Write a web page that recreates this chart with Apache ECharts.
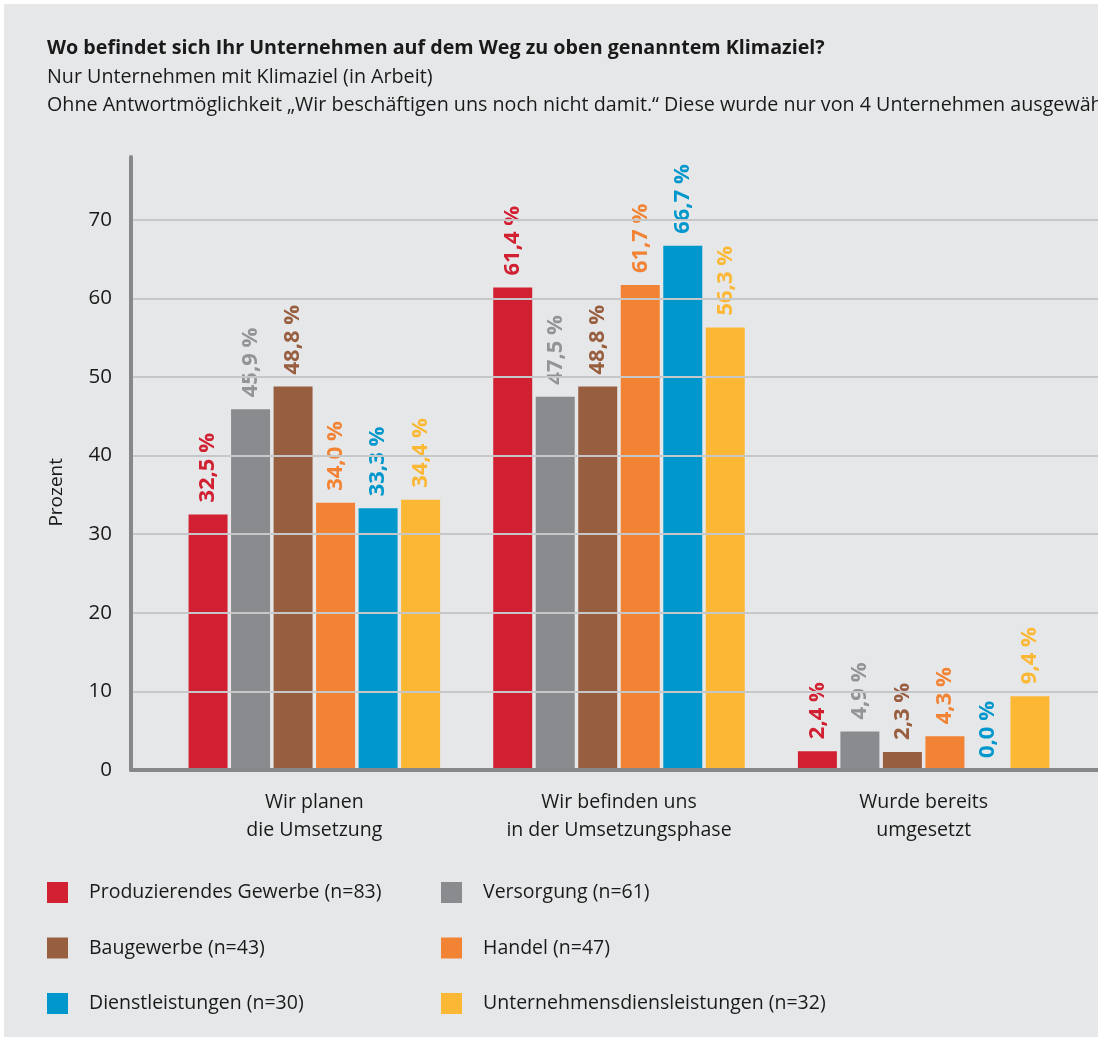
<!DOCTYPE html>
<html>
<head>
<meta charset="utf-8">
<script src="https://cdn.jsdelivr.net/npm/echarts@6/dist/echarts.min.js"></script>
<style>
html,body{margin:0;padding:0;background:#ffffff;width:1098px;height:1047px;overflow:hidden;}
#bg{position:absolute;left:4px;top:4px;width:1094px;height:1033px;background:#e6e7e8;}
#chart{position:absolute;left:0;top:0;width:1098px;height:1047px;}
</style>
</head>
<body>
<div id="bg"></div>
<div id="chart"></div>
<script>
const categories = ['Wir planen\ndie Umsetzung', 'Wir befinden uns\nin der Umsetzungsphase', 'Wurde bereits\numgesetzt'];
const seriesNames = ['Produzierendes Gewerbe (n=83)', 'Versorgung (n=61)', 'Baugewerbe (n=43)', 'Handel (n=47)', 'Dienstleistungen (n=30)', 'Unternehmensdiensleistungen (n=32)'];
const produzierendesGewerbe = [32.5, 61.4, 2.4];
const versorgung = [45.9, 47.5, 4.9];
const baugewerbe = [48.8, 48.8, 2.3];
const handel = [34.0, 61.7, 4.3];
const dienstleistungen = [33.3, 66.7, 0.0];
const unternehmensdienstleistungen = [34.4, 56.3, 9.4];
const yTicks = [0, 10, 20, 30, 40, 50, 60, 70];
const colors = ['#d12031', '#8a8b8e', '#985e40', '#f28334', '#0098cc', '#fcb834'];

const allValues = [produzierendesGewerbe, versorgung, baugewerbe, handel, dienstleistungen, unternehmensdienstleistungen];
const FONT = '"Open Sans", "Noto Sans", sans-serif';
const chart = echarts.init(document.getElementById('chart'), null, {renderer: 'canvas'});

const series = allValues.map((vals, i) => ({
  name: seriesNames[i],
  type: 'bar',
  xAxisIndex: 0,
  yAxisIndex: 0,
  data: vals,
  barWidth: 39,
  barGap: '9%',
  itemStyle: {color: colors[i]},
  label: {
    show: true,
    position: 'top',
    rotate: 90,
    align: 'left',
    verticalAlign: 'middle',
    distance: 12,
    color: i === 1 ? '#939497' : colors[i],
    textBorderWidth: 0,
    fontFamily: FONT,
    fontWeight: 'bold',
    fontSize: 22,
    formatter: p => p.value.toFixed(1).replace('.', ',') + ' %'
  }
}));

const titleStyle = (w) => ({fontFamily: FONT, fontWeight: w, fontSize: 19.7, lineHeight: 24, color: '#1a1a1a'});

const option = {
  backgroundColor: 'transparent',
  animation: false,
  color: colors,
  title: [
    {text: 'Wo befindet sich Ihr Unternehmen auf dem Weg zu oben genanntem Klimaziel?', left: 42, top: 31,
     textStyle: titleStyle('bold')},
    {text: 'Nur Unternehmen mit Klimaziel (in Arbeit)', left: 42, top: 60,
     textStyle: titleStyle('normal')},
    {text: 'Ohne Antwortmöglichkeit \u201EWir beschäftigen uns noch nicht damit.\u201C Diese wurde nur von 4 Unternehmen ausgewählt.', left: 42, top: 88,
     textStyle: titleStyle('normal')}
  ],
  legend: [
    {data: [seriesNames[0], seriesNames[2], seriesNames[4]], orient: 'vertical', left: 42, top: 877,
     itemWidth: 21, itemHeight: 21, itemGap: 34.5, icon: 'rect', selectedMode: false,
     textStyle: {fontFamily: FONT, fontSize: 19.5, lineHeight: 21, color: '#1a1a1a', padding: [0, 0, 0, 16]}},
    {data: [seriesNames[1], seriesNames[3], seriesNames[5]], orient: 'vertical', left: 436, top: 877,
     itemWidth: 21, itemHeight: 21, itemGap: 34.5, icon: 'rect', selectedMode: false,
     textStyle: {fontFamily: FONT, fontSize: 19.5, lineHeight: 21, color: '#1a1a1a', padding: [0, 0, 0, 16]}}
  ],
  grid: [
    {left: 162, right: 22, top: 157, bottom: 277, containLabel: false},
    {left: 131, right: -30, top: 157, bottom: 277, containLabel: false}
  ],
  xAxis: [
    {type: 'category', gridIndex: 0, data: categories,
     axisLine: {show: false}, axisTick: {show: false},
     axisLabel: {margin: 18, fontFamily: FONT, fontSize: 19.5, lineHeight: 28, color: '#1a1a1a', interval: 0}},
    {type: 'value', gridIndex: 1, min: 0, max: 1, show: true, z: 5,
     axisLine: {show: true, onZero: false, lineStyle: {color: '#87888a', width: 4}},
     axisTick: {show: false}, axisLabel: {show: false}, splitLine: {show: false}}
  ],
  yAxis: [
    {type: 'value', gridIndex: 0, min: 0, max: 78, interval: 10, show: false, splitLine: {show: false}},
    {type: 'value', gridIndex: 1, min: 0, max: 78, interval: 10, z: 5,
     axisLine: {show: true, lineStyle: {color: '#87888a', width: 4}},
     axisTick: {show: false},
     axisLabel: {margin: 19, fontFamily: FONT, fontSize: 20.5, color: '#1a1a1a', showMaxLabel: false,
       formatter: v => yTicks.indexOf(v) >= 0 ? String(v) : ''},
     splitLine: {show: true, showMaxLine: false, showMinLine: false, lineStyle: {color: '#c6c7c9', width: 2}}}
  ],
  graphic: [
    {type: 'text', left: 47, top: 458, rotation: Math.PI / 2,
     style: {text: 'Prozent', fontFamily: FONT, fontSize: 19, fill: '#1a1a1a'}}
  ],
  series: series
};
chart.setOption(option);
</script>
</body>
</html>
